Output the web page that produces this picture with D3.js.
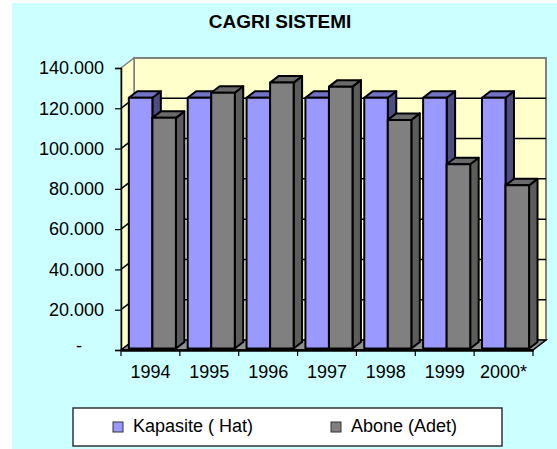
<!DOCTYPE html>
<html>
<head>
<meta charset="utf-8">
<script src="https://cdn.jsdelivr.net/npm/d3@7"></script>
<style>
  body { margin: 0; background: #fff; }
  text { font-family: Arial, "Liberation Sans", sans-serif; }
</style>
</head>
<body>
<div id="chart"></div>
<script>
// data
var years = ["1994", "1995", "1996", "1997", "1998", "1999", "2000*"];
var kapasite = [124500, 124500, 124500, 124500, 124500, 124500, 124500];
var abone = [114500, 127000, 132000, 130000, 113500, 91500, 81000];
var seriesNames = ["Kapasite ( Hat)", "Abone (Adet)"];
var yTicks = [0, 20000, 40000, 60000, 80000, 100000, 120000, 140000];

var W = 557, H = 449;
var DX = 13, DY = -10;          // depth of the 3d box
var Z0 = 0.15, Z1 = 0.8;        // depth of the bars inside the box

var colors = [
  {front: "#9999FF", top: "#7373C6", side: "#4D4D80"},
  {front: "#808080", top: "#6A6A6A", side: "#5C5C5C"}
];

var loc = d3.formatLocale({decimal: ",", thousands: ".", grouping: [3], currency: ["", ""]});
var fmt = function(v) { return v === 0 ? "-" : loc.format(",")(v); };

var svg = d3.select("#chart").append("svg")
  .attr("width", W).attr("height", H);

svg.append("rect").attr("width", W).attr("height", H).attr("fill", "#fff");
svg.append("rect").attr("x", 12).attr("y", 3).attr("width", W - 12).attr("height", H - 3)
  .attr("fill", "#CCFFFF");

// title
svg.append("text").attr("x", 280).attr("y", 28)
  .attr("text-anchor", "middle").attr("font-size", 19).attr("font-weight", "bold")
  .text("CAGRI SISTEMI");

var x = d3.scaleBand().domain(years).range([121, 533]);
var xs = d3.scaleBand().domain(d3.range(2)).range([0, x.bandwidth()]).paddingOuter(0.25);
var y = d3.scaleLinear().domain([0, 140000]).range([350, 68]);

function pt(px, v, z) { return [px + z * DX, y(v) + z * DY]; }
function poly(pts) { return pts.map(function(p) { return p.join(","); }).join(" "); }

var x0 = x.range()[0], x1 = x.range()[1];

// back wall
svg.append("polygon")
  .attr("points", poly([pt(x0, 0, 1), pt(x0, 140000, 1), pt(x1, 140000, 1), pt(x1, 0, 1)]))
  .attr("fill", "#FFFFCC").attr("stroke", "#808080").attr("stroke-width", 2);
// left wall
svg.append("polygon")
  .attr("points", poly([pt(x0, 0, 0), pt(x0, 140000, 0), pt(x0, 140000, 1), pt(x0, 0, 1)]))
  .attr("fill", "#FFFFCC").attr("stroke", "#808080").attr("stroke-width", 1.5);

// gridlines on the walls
var grid = svg.append("g");
yTicks.filter(function(d) { return d > 0 && d < 140000; }).forEach(function(d) {
  grid.append("polyline")
    .attr("points", poly([pt(x0, d, 0), pt(x0, d, 1), pt(x1, d, 1)]))
    .attr("fill", "none").attr("stroke", "#000").attr("stroke-width", 1.5);
});

// floor
svg.append("polygon")
  .attr("points", poly([pt(x0, 0, 0), pt(x0, 0, 1), pt(x1, 0, 1), pt(x1, 0, 0)]))
  .attr("fill", "#909090").attr("stroke", "#000").attr("stroke-width", 1.5);

// bars, left to right so the side faces hide correctly
var bars = svg.append("g");
years.forEach(function(yr, i) {
  [kapasite[i], abone[i]].forEach(function(v, s) {
    var bx0 = x(yr) + xs(s), bx1 = bx0 + xs.bandwidth();
    var c = colors[s];
    var g = bars.append("g").attr("stroke", "#000").attr("stroke-width", 2)
      .attr("stroke-linejoin", "round");
    g.append("polygon")
      .attr("points", poly([pt(bx1, 0, Z0), pt(bx1, v, Z0), pt(bx1, v, Z1), pt(bx1, 0, Z1)]))
      .attr("fill", c.side);
    g.append("polygon")
      .attr("points", poly([pt(bx0, v, Z0), pt(bx1, v, Z0), pt(bx1, v, Z1), pt(bx0, v, Z1)]))
      .attr("fill", c.top);
    g.append("polygon")
      .attr("points", poly([pt(bx0, 0, Z0), pt(bx0, v, Z0), pt(bx1, v, Z0), pt(bx1, 0, Z0)]))
      .attr("fill", c.front);
  });
});

// axes
var yAxis = d3.axisLeft(y).tickValues(yTicks).tickSize(6).tickPadding(11).tickFormat(fmt);
var gy = svg.append("g").attr("transform", "translate(" + x0 + ",0)").call(yAxis);
gy.select(".domain").attr("stroke", "#000").attr("stroke-width", 1.5);
gy.selectAll(".tick line").attr("stroke", "#000").attr("stroke-width", 1.2);
gy.selectAll(".tick text").attr("font-size", 18).attr("fill", "#000")
  .attr("font-family", "Arial, 'Liberation Sans', sans-serif");
// the zero dash sits further left, like an accounting format
gy.selectAll(".tick text").filter(function(d) { return d === 0; })
  .attr("x", -39).attr("dy", "0.1em");

var xAxis = d3.axisBottom(x).tickSize(0).tickPadding(15);
var gx = svg.append("g").attr("transform", "translate(0," + y(0) + ")").call(xAxis);
gx.select(".domain").attr("stroke", "#000").attr("stroke-width", 2.5);
gx.selectAll(".tick text").attr("font-size", 18).attr("fill", "#000")
  .attr("font-family", "Arial, 'Liberation Sans', sans-serif");
// ticks on the category boundaries
gx.selectAll(".bound").data(d3.range(years.length + 1)).enter().append("line")
  .attr("x1", function(i) { return x0 + i * x.step(); })
  .attr("x2", function(i) { return x0 + i * x.step(); })
  .attr("y1", 0).attr("y2", 6).attr("stroke", "#000").attr("stroke-width", 1.2);

// legend
var leg = svg.append("g");
leg.append("rect").attr("x", 73).attr("y", 408).attr("width", 429).attr("height", 38)
  .attr("fill", "#fff").attr("stroke", "#333").attr("stroke-width", 1.5);
var legX = [113, 331];
seriesNames.forEach(function(name, s) {
  leg.append("rect").attr("x", legX[s]).attr("y", 422).attr("width", 10).attr("height", 10)
    .attr("fill", colors[s].front).attr("stroke", "#333").attr("stroke-width", 1);
  leg.append("text").attr("x", legX[s] + 20).attr("y", 432).attr("font-size", 18)
    .text(name);
});
</script>
</body>
</html>
